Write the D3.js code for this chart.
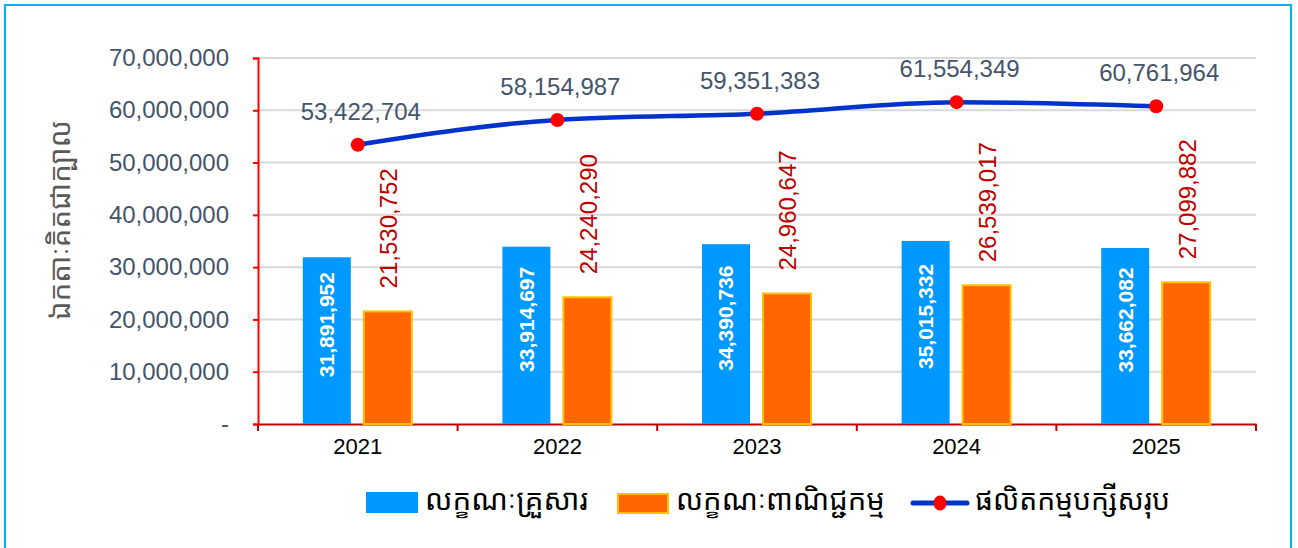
<!DOCTYPE html>
<html>
<head>
<meta charset="utf-8">
<script src="https://cdn.jsdelivr.net/npm/d3@7"></script>
<style>
  body { margin: 0; background: #fff; }
  svg { display: block; }
</style>
</head>
<body>
<svg id="chart" width="1298" height="548"></svg>
<script>
// data
const years = ['2021', '2022', '2023', '2024', '2025']
const household = [31891952, 33914697, 34390736, 35015332, 33662082]
const commercial = [21530752, 24240290, 24960647, 26539017, 27099882]
const total = [53422704, 58154987, 59351383, 61554349, 60761964]
const yTicks = [0, 10000000, 20000000, 30000000, 40000000, 50000000, 60000000, 70000000]
const seriesNames = ['លក្ខណៈគ្រួសារ', 'លក្ខណៈពាណិជ្ជកម្ម', 'ផលិតកម្មបក្សីសរុប']
const yTitle = 'ឯកតាៈគិតជាក្បាល'

const khmer = '"Noto Sans Khmer", "Khmer OS", "Khmer OS System", "Noto Serif Khmer", sans-serif'
const latin = 'Arial, "Liberation Sans", sans-serif'

const svg = d3.select('#chart')
const fmt = d3.format(',')

// shrink/grow a text so it spans the given width (khmer fallback font is unknown)
function fitWidth(sel, w) {
    sel.each(function () {
        let fs = parseFloat(d3.select(this).style('font-size'))
        let len = this.getComputedTextLength()
        if (len > 0) d3.select(this).style('font-size', (fs * w / len) + 'px')
    })
}

// frame
svg.append('rect')
    .attr('x', 5).attr('y', 5)
    .attr('width', 1286).attr('height', 546)
    .attr('fill', 'none')
    .attr('stroke', '#00b0f0')
    .attr('stroke-width', 2)

const plotL = 258, plotR = 1256, plotT = 58, plotB = 424

const x = d3.scaleBand().domain(years).range([plotL, plotR])
const y = d3.scaleLinear().domain([0, 70000000]).range([plotB, plotT])

// gridlines
svg.append('g')
    .selectAll('line')
    .data(yTicks.filter(d => d > 0))
    .enter()
    .append('line')
    .attr('x1', plotL).attr('x2', plotR)
    .attr('y1', d => y(d)).attr('y2', d => y(d))
    .attr('stroke', '#d9d9d9')
    .attr('stroke-width', 2)

// y axis
const yAxis = svg.append('g')
    .attr('transform', `translate(${plotL},0)`)
    .call(d3.axisLeft(y).tickValues(yTicks).tickSize(5).tickPadding(24)
        .tickFormat(d => d === 0 ? '-' : fmt(d)))
yAxis.select('.domain').attr('stroke', '#ff0000').attr('stroke-width', 2)
yAxis.selectAll('.tick line').attr('stroke', '#ff0000').attr('stroke-width', 2)
yAxis.selectAll('.tick text')
    .attr('fill', '#44546a')
    .style('font-family', latin)
    .style('font-size', '24px')

// x axis
const xAxis = svg.append('g')
    .attr('transform', `translate(0,${plotB})`)
    .call(d3.axisBottom(x).tickSize(0).tickPadding(18))
xAxis.select('.domain').attr('stroke', '#c00000').attr('stroke-width', 2)
xAxis.selectAll('.tick text')
    .attr('fill', '#000')
    .attr('dy', '0.55em')
    .style('font-family', latin)
    .style('font-size', '22px')
// category boundary ticks
svg.append('g')
    .selectAll('line')
    .data(years.map(d => x(d)).concat([plotR]))
    .enter()
    .append('line')
    .attr('x1', d => d).attr('x2', d => d)
    .attr('y1', plotB).attr('y2', plotB + 7)
    .attr('stroke', '#c00000')
    .attr('stroke-width', 2)

const bw = 48
const cx = d => x(d) + x.bandwidth() / 2

// household bars
const hb = svg.append('g')
hb.selectAll('rect')
    .data(years)
    .enter()
    .append('rect')
    .attr('x', d => cx(d) - 55)
    .attr('y', (d, i) => y(household[i]))
    .attr('width', bw)
    .attr('height', (d, i) => plotB - y(household[i]))
    .attr('fill', '#0099ff')
hb.selectAll('text')
    .data(years)
    .enter()
    .append('text')
    .attr('transform', (d, i) => `translate(${cx(d) - 31},${(y(household[i]) + plotB) / 2 - 16}) rotate(-90)`)
    .attr('text-anchor', 'middle')
    .attr('dy', '0.35em')
    .attr('fill', '#fff')
    .style('font-family', latin)
    .style('font-size', '21px')
    .style('font-weight', 'bold')
    .text((d, i) => fmt(household[i]))

// commercial bars
const cb = svg.append('g')
cb.selectAll('rect')
    .data(years)
    .enter()
    .append('rect')
    .attr('x', d => cx(d) + 6)
    .attr('y', (d, i) => y(commercial[i]))
    .attr('width', bw)
    .attr('height', (d, i) => plotB - y(commercial[i]))
    .attr('fill', '#ff6600')
    .attr('stroke', '#ffc000')
    .attr('stroke-width', 2)
cb.selectAll('text')
    .data(years)
    .enter()
    .append('text')
    .attr('transform', (d, i) => `translate(${cx(d) + 31},${y(commercial[i]) - 23}) rotate(-90)`)
    .attr('text-anchor', 'start')
    .attr('dy', '0.35em')
    .attr('fill', '#c00000')
    .style('font-family', latin)
    .style('font-size', '24px')
    .text((d, i) => fmt(commercial[i]))

// total line
const line = d3.line()
    .x((d, i) => cx(years[i]))
    .y(d => y(d))
    .curve(d3.curveMonotoneX)
svg.append('path')
    .datum(total)
    .attr('d', line)
    .attr('fill', 'none')
    .attr('stroke', '#0033cc')
    .attr('stroke-width', 4.5)

svg.append('g')
    .selectAll('circle')
    .data(total)
    .enter()
    .append('circle')
    .attr('cx', (d, i) => cx(years[i]))
    .attr('cy', d => y(d))
    .attr('r', 7)
    .attr('fill', '#ff0000')

svg.append('g')
    .selectAll('text')
    .data(total)
    .enter()
    .append('text')
    .attr('x', (d, i) => cx(years[i]) + 3)
    .attr('y', d => y(d) - 25)
    .attr('text-anchor', 'middle')
    .attr('fill', '#44546a')
    .style('font-family', latin)
    .style('font-size', '24px')
    .text(d => fmt(d))

// y title
svg.append('text')
    .attr('transform', 'translate(70,220) rotate(-90)')
    .attr('text-anchor', 'middle')
    .attr('fill', '#595959')
    .style('font-family', khmer)
    .style('font-size', '28px')
    .text(yTitle)
    .call(fitWidth, 200)

// legend
const lg = svg.append('g').style('font-family', khmer).style('font-size', '28px').attr('fill', '#000')
lg.append('rect').attr('x', 366).attr('y', 492).attr('width', 52).attr('height', 21).attr('fill', '#0099ff')
lg.append('text').attr('x', 425).attr('y', 510).text(seriesNames[0]).call(fitWidth, 163)
lg.append('rect').attr('x', 618).attr('y', 494).attr('width', 50).attr('height', 19)
    .attr('fill', '#ff6600').attr('stroke', '#ffc000').attr('stroke-width', 2)
lg.append('text').attr('x', 676).attr('y', 510).text(seriesNames[1]).call(fitWidth, 209)
lg.append('line').attr('x1', 913).attr('x2', 967).attr('y1', 503).attr('y2', 503)
    .attr('stroke', '#0033cc').attr('stroke-width', 5).attr('stroke-linecap', 'round')
lg.append('ellipse').attr('cx', 940).attr('cy', 503).attr('rx', 6.5).attr('ry', 7.5).attr('fill', '#ff0000')
lg.append('text').attr('x', 975).attr('y', 510).text(seriesNames[2]).call(fitWidth, 195)
</script>
</body>
</html>
